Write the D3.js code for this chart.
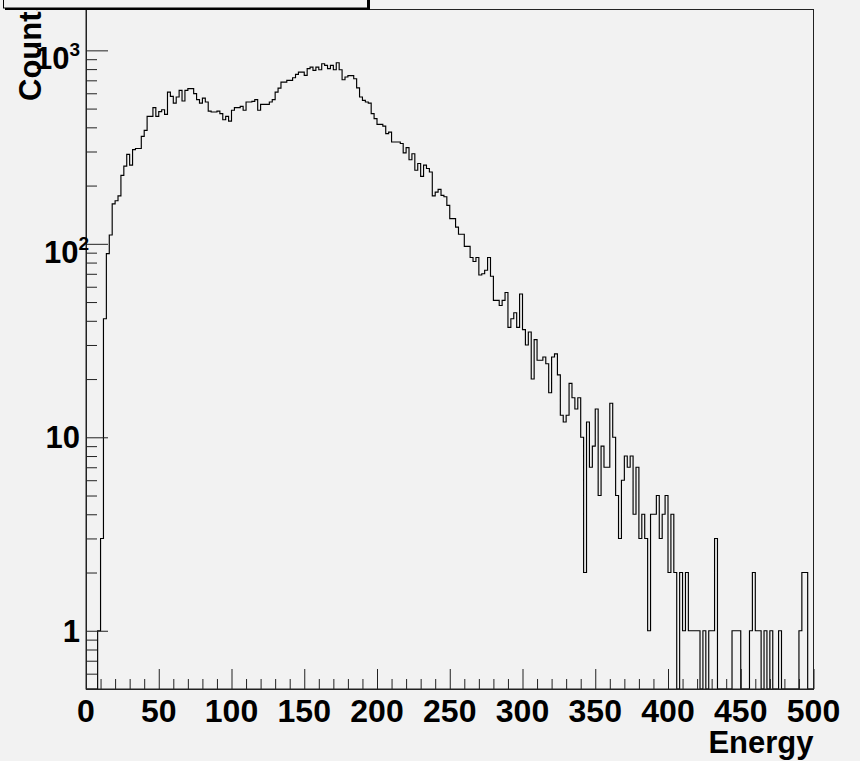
<!DOCTYPE html>
<html><head><meta charset="utf-8">
<script src="https://cdn.jsdelivr.net/npm/d3@7"></script>
<style>body{margin:0;background:#f2f2f2}svg{display:block}</style>
</head><body>
<svg id="c" width="860" height="761"></svg>
<script>
// ---- data (bin width 2, range 0..500) ----
const binLow = 0, binWidth = 2;
const counts = [
  0,0,0,0,1,3,41,89,111,161,
  167,177,226,252,290,255,307,311,311,359,
  386,456,456,506,456,482,493,467,608,578,
  534,574,621,547,621,634,634,597,556,534,
  566,541,485,480,480,485,471,438,456,431,
  490,506,506,513,490,541,541,545,556,490,
  526,526,526,541,556,608,638,685,685,699,
  699,722,751,772,772,742,804,819,788,819,
  794,853,836,804,836,794,863,794,705,728,
  740,740,713,640,574,551,541,534,471,444,
  414,414,406,371,378,336,336,336,330,295,
  314,272,292,240,260,223,255,245,235,177,
  185,191,178,175,158,135,135,122,112,112,
  97,97,85,81,85,69,70,73,85,68,
  51,51,48,51,56,37,41,44,37,55,
  36,30,35,20,32,25,25,26,24,17,
  26,27,21,13,12,13,19,16,14,16,
  10,2,12,7,9,14,5,9,7,7,
  15,10,5,3,6,8,7,8,4,7,
  3,4,3,1,4,4,5,3,4,5,
  2,4,2,0,2,1,2,1,1,1,
  1,0,1,0,1,1,3,0,0,0,
  0,0,1,1,1,0,0,0,1,2,
  1,1,0,1,0,1,0,0,1,0,
  0,0,0,0,0,1,2,2,0,0
];
const xTicks = [0,50,100,150,200,250,300,350,400,450,500];
const xMinor = d3.range(10, 500, 10).filter(v => v % 50 !== 0);
const yMajor = [1, 10, 100, 1000];
const yMinor = [0.6,0.7,0.8,0.9,2,3,4,5,6,7,8,9,20,30,40,50,60,70,80,90,200,300,400,500,600,700,800,900];
const yLabels = [
  {v:1, base:"1", exp:""},
  {v:10, base:"10", exp:""},
  {v:100, base:"10", exp:"2"},
  {v:1000, base:"10", exp:"3"}
];
const xTitle = "Energy", yTitle = "Counts";

// ---- layout ----
const L = 86, R = 813.5, T = 9.5, B = 689;
const FONT = "'Liberation Sans', Arial, Helvetica, sans-serif";
const svg = d3.select("#c");
svg.append("rect").attr("width",860).attr("height",761).attr("fill","#f2f2f2");

const x = d3.scaleLinear().domain([0, 500]).range([L, R]);
const y = d3.scaleLog().domain([0.5, 1626]).range([B, T]);

// histogram step path
const pts = [[x(binLow), B]];
counts.forEach((c, i) => {
  const lo = binLow + i*binWidth, hi = lo + binWidth;
  const yy = c > 0 ? y(Math.max(c, 0.5)) : B;
  pts.push([x(lo), yy], [x(hi), yy]);
});
pts.push([x(500), B]);
svg.append("path")
  .attr("d", d3.line()(pts))
  .attr("fill","none").attr("stroke","#000").attr("stroke-width",1.15);

// frame
svg.append("rect").attr("x",L).attr("y",T).attr("width",R-L).attr("height",B-T)
  .attr("fill","none").attr("stroke","#222").attr("stroke-width",1);

// axes ticks (inward)
const gx = svg.append("g").attr("transform",`translate(0,${B})`);
gx.call(d3.axisTop(x).tickValues(xTicks).tickSize(20).tickSizeOuter(0).tickFormat(""));
const gxm = svg.append("g").attr("transform",`translate(0,${B})`);
gxm.call(d3.axisTop(x).tickValues(xMinor).tickSize(10).tickSizeOuter(0).tickFormat(""));
const gy = svg.append("g").attr("transform",`translate(${L},0)`);
gy.call(d3.axisRight(y).tickValues(yMajor).tickSize(22).tickSizeOuter(0).tickFormat(""));
const gym = svg.append("g").attr("transform",`translate(${L},0)`);
gym.call(d3.axisRight(y).tickValues(yMinor).tickSize(11).tickSizeOuter(0).tickFormat(""));
svg.selectAll(".domain").attr("stroke","#222");
svg.selectAll(".tick line").attr("stroke","#222").attr("stroke-width",1);

// x tick labels
svg.append("g").selectAll("text").data(xTicks).join("text")
  .attr("x", d => x(d)).attr("y", 722)
  .attr("text-anchor","middle")
  .attr("font-family",FONT).attr("font-weight","bold").attr("font-size",32)
  .attr("fill","#000").text(d => d);

// y tick labels
const yl = svg.append("g").selectAll("text").data(yLabels).join("text")
  .attr("font-family",FONT).attr("font-weight","bold").attr("font-size",31).attr("fill","#000")
  .attr("text-anchor","end")
  .attr("x", d => d.exp === "3" ? 80 : (d.exp ? 89 : 80))
  .attr("y", d => y(d.v) + (d.exp ? 19 : 11));
yl.append("tspan").text(d => d.base);
yl.filter(d => d.exp).append("tspan").attr("font-size",19).attr("dy",-13).text(d => d.exp);

// axis titles
svg.append("text").attr("x", R).attr("y", 753).attr("text-anchor","end")
  .attr("font-family",FONT).attr("font-weight","bold").attr("font-size",31)
  .attr("fill","#000").text(xTitle);
svg.append("text").attr("transform","translate(41,101) rotate(-90)").attr("text-anchor","start")
  .attr("font-family",FONT).attr("font-weight","bold").attr("font-size",31)
  .attr("fill","#000").text(yTitle);

// title box (top-left, with shadow)
svg.append("rect").attr("x",5).attr("y",-30).attr("width",365).attr("height",40).attr("fill","#000");
svg.append("rect").attr("x",3.5).attr("y",-31).attr("width",364).attr("height",39)
  .attr("fill","#f2f2f2").attr("stroke","#000").attr("stroke-width",1);
</script>
</body></html>
